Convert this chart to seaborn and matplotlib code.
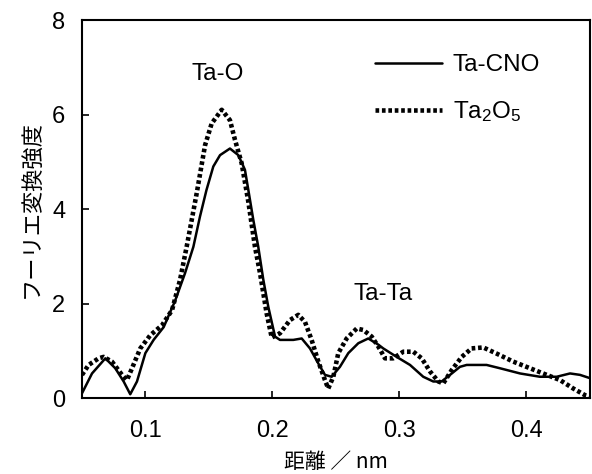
import pandas as pd
import matplotlib
matplotlib.use('Agg')
import matplotlib.pyplot as plt
import seaborn as sns

# Ta-CNO (solid line)
cno_x = [0.050, 0.0579, 0.0684, 0.0762, 0.0828, 0.088, 0.0933, 0.0999, 0.1064, 0.1143,
         0.1232, 0.1311, 0.1377, 0.1429, 0.148, 0.1534, 0.1587, 0.1665, 0.1731, 0.1783,
         0.181, 0.1849, 0.1888, 0.1928, 0.1967, 0.202, 0.2059, 0.2164, 0.223, 0.2295,
         0.2361, 0.2413, 0.2466, 0.2531, 0.2597, 0.2676, 0.2754, 0.2833, 0.2872, 0.2978,
         0.3083, 0.3187, 0.3266, 0.3332, 0.3398, 0.3476, 0.3529, 0.3686, 0.3791, 0.3949,
         0.4106, 0.4238, 0.4343, 0.4421, 0.450]
cno_y = [0.10, 0.52, 0.84, 0.63, 0.35, 0.08, 0.35, 0.95, 1.23, 1.50,
         2.05, 2.64, 3.20, 3.84, 4.40, 4.90, 5.14, 5.28, 5.14, 4.83,
         4.40, 3.77, 3.20, 2.50, 1.93, 1.30, 1.23, 1.23, 1.26, 1.05,
         0.73, 0.49, 0.45, 0.66, 0.95, 1.16, 1.26, 1.13, 1.05, 0.87,
         0.70, 0.45, 0.35, 0.35, 0.49, 0.66, 0.70, 0.70, 0.63, 0.52,
         0.45, 0.45, 0.52, 0.49, 0.42]

# Ta2O5 (dotted line)
oxide_x = [0.050, 0.0552, 0.0631, 0.067, 0.0736, 0.0815, 0.0854, 0.0894, 0.0959, 0.1038,
           0.113, 0.1209, 0.1272, 0.1324, 0.1364, 0.1403, 0.1469, 0.1521, 0.160, 0.1665,
           0.1705, 0.1757, 0.181, 0.1862, 0.1902, 0.1954, 0.1994, 0.2059, 0.2138, 0.2203,
           0.2256, 0.2308, 0.2361, 0.2413, 0.2439, 0.2479, 0.2518, 0.2584, 0.2663, 0.2715,
           0.2781, 0.2833, 0.2886, 0.2951, 0.303, 0.3109, 0.3175, 0.3241, 0.3306, 0.3345,
           0.3411, 0.349, 0.3568, 0.366, 0.3765, 0.3896, 0.4028, 0.4159, 0.4264, 0.4369,
           0.4461, 0.450]
oxide_y = [0.49, 0.70, 0.84, 0.87, 0.77, 0.49, 0.38, 0.63, 1.05, 1.33,
           1.54, 1.86, 2.50, 3.20, 3.77, 4.33, 5.35, 5.81, 6.10, 5.88,
           5.46, 4.97, 4.15, 3.20, 2.64, 1.79, 1.28, 1.37, 1.65, 1.76,
           1.61, 1.23, 0.77, 0.38, 0.20, 0.45, 0.95, 1.26, 1.47, 1.44,
           1.30, 1.09, 0.84, 0.84, 0.98, 0.98, 0.84, 0.56, 0.35, 0.31,
           0.59, 0.87, 1.05, 1.07, 0.94, 0.77, 0.63, 0.49, 0.38, 0.20,
           0.06, 0.03]

series_names = ['Ta-CNO', 'Ta$_2$O$_5$']
peak_labels = ['Ta-O', 'Ta-Ta']
peak_pos = [(0.1567, 6.86), (0.287, 2.2)]

df_cno = pd.DataFrame({'x': cno_x, 'y': cno_y})
df_oxide = pd.DataFrame({'x': oxide_x, 'y': oxide_y})

sns.set_style('ticks')
plt.rcParams['font.family'] = ['Liberation Sans', 'Noto Sans CJK JP', 'DejaVu Sans']
plt.rcParams['text.color'] = 'black'
plt.rcParams['axes.labelcolor'] = 'black'
plt.rcParams['mathtext.fontset'] = 'custom'
plt.rcParams['mathtext.rm'] = 'Liberation Sans'
plt.rcParams['mathtext.it'] = 'Liberation Sans'

jp = ['Noto Sans CJK JP', 'DejaVu Sans']

fig = plt.figure(figsize=(5.92, 4.74), dpi=100)
ax = fig.add_axes([0.1385, 0.1603, 0.8581, 0.7975])

sns.lineplot(data=df_cno, x='x', y='y', ax=ax, color='black', linewidth=1.8,
             label=series_names[0], sort=False, solid_joinstyle='round')
sns.lineplot(data=df_oxide, x='x', y='y', ax=ax, color='black', linewidth=3.3,
             linestyle=(0, (0.8, 0.6)), label=series_names[1], sort=False)

ax.set_xlim(0.05, 0.45)
ax.set_ylim(0, 8)
ax.set_xticks([0.1, 0.2, 0.3, 0.4])
ax.set_xticklabels(['0.1', '0.2', '0.3', '0.4'])
ax.set_yticks([0, 2, 4, 6, 8])
ax.set_yticklabels(['0', '2', '4', '6', '8'])
ax.tick_params(direction='in', length=5, width=1.2, labelsize=17, colors='black')
ax.tick_params(axis='x', pad=16)
ax.tick_params(axis='y', pad=12)
for s in ax.spines.values():
    s.set_linewidth(1.5)
    s.set_color('black')

ax.set_xlabel('距離 ／ nm', fontsize=15, family=jp, labelpad=6)
ax.set_ylabel('フーリエ変換強度', fontsize=16, family=jp, labelpad=6)

for txt, (px, py) in zip(peak_labels, peak_pos):
    ax.text(px, py, txt, fontsize=17.5, ha='center', va='center')

ax.legend(loc='upper left', frameon=False, fontsize=17.5, handlelength=2.75,
          labelspacing=0.95, handletextpad=0.45, borderaxespad=0, borderpad=0,
          bbox_to_anchor=(0.577, 0.91))

fig.savefig('out.png', dpi=100)
